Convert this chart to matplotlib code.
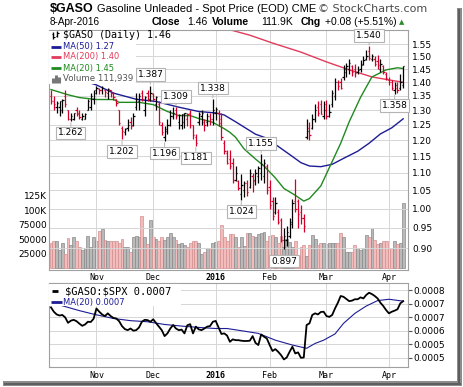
import numpy as np
import pandas as pd
import matplotlib
matplotlib.use("Agg")
import matplotlib.pyplot as plt
from matplotlib.patches import Rectangle
from matplotlib.lines import Line2D
from matplotlib.ticker import NullLocator

W, H = 464, 387

# trading days on the chart
holidays = ["2015-11-26", "2015-12-25", "2016-01-01", "2016-01-18", "2016-02-15", "2016-03-25"]
dates = pd.bdate_range("2015-10-09", "2016-04-08")
dates = dates[~dates.isin(pd.to_datetime(holidays))]

opens = [1.35, 1.33, 1.31, 1.31, 1.30, 1.35, 1.30, 1.27, 1.27, 1.30,
         1.29, 1.27, 1.27, 1.30, 1.31, 1.34, 1.37, 1.375, 1.37, 1.37,
         1.36, 1.37, 1.36, 1.34, 1.30, 1.24, 1.225, 1.24, 1.26, 1.25,
         1.31, 1.33, 1.36, 1.30, 1.36, 1.34, 1.355, 1.32, 1.32, 1.25,
         1.21, 1.235, 1.25, 1.28, 1.30, 1.26, 1.25, 1.26, 1.27, 1.29,
         1.25, 1.21, 1.26, 1.28, 1.26, 1.26, 1.28, 1.27, 1.29, 1.29,
         1.27, 1.19, 1.16, 1.14, 1.13, 1.08, 1.075, 1.04, 1.05, 1.07,
         1.06, 1.09, 1.08, 1.09, 1.10, 1.09, 1.12, 1.06, 1.02, 0.99,
         0.99, 0.97, 0.92, 0.92, 0.93, 0.96, 1.02, 1.02, 0.99, 0.975,
         1.21, 1.24, 1.24, 1.27, 1.31, 1.32, 1.28, 1.32, 1.28, 1.32,
         1.35, 1.40, 1.40, 1.42, 1.44, 1.45, 1.46, 1.45, 1.44, 1.45,
         1.47, 1.49, 1.52, 1.49, 1.49, 1.48, 1.45, 1.46, 1.43, 1.41,
         1.40, 1.37, 1.38, 1.38, 1.39]
highs = [1.37, 1.35, 1.33, 1.33, 1.34, 1.37, 1.30, 1.29, 1.29, 1.31,
         1.30, 1.29, 1.29, 1.34, 1.36, 1.37, 1.385, 1.38, 1.385, 1.375,
         1.38, 1.37, 1.365, 1.34, 1.30, 1.245, 1.24, 1.27, 1.275, 1.29,
         1.36, 1.36, 1.37, 1.35, 1.37, 1.387, 1.36, 1.35, 1.33, 1.26,
         1.245, 1.27, 1.30, 1.31, 1.309, 1.285, 1.285, 1.29, 1.29, 1.30,
         1.25, 1.22, 1.295, 1.30, 1.27, 1.29, 1.29, 1.338, 1.31, 1.30,
         1.29, 1.20, 1.17, 1.17, 1.145, 1.12, 1.08, 1.097, 1.075, 1.08,
         1.11, 1.10, 1.11, 1.12, 1.155, 1.14, 1.126, 1.08, 1.03, 1.03,
         1.00, 0.975, 0.95, 0.955, 0.975, 1.025, 1.083, 1.025, 1.01, 0.985,
         1.268, 1.26, 1.285, 1.32, 1.33, 1.337, 1.33, 1.335, 1.32, 1.372,
         1.415, 1.41, 1.415, 1.466, 1.475, 1.49, 1.466, 1.47, 1.46, 1.485,
         1.50, 1.525, 1.540, 1.51, 1.50, 1.505, 1.49, 1.466, 1.44, 1.42,
         1.41, 1.40, 1.40, 1.43, 1.46]
lows = [1.32, 1.30, 1.29, 1.28, 1.29, 1.31, 1.265, 1.262, 1.265, 1.28,
        1.27, 1.265, 1.27, 1.30, 1.30, 1.32, 1.355, 1.355, 1.355, 1.345,
        1.34, 1.345, 1.335, 1.315, 1.25, 1.202, 1.215, 1.23, 1.235, 1.245,
        1.30, 1.30, 1.33, 1.28, 1.33, 1.33, 1.33, 1.30, 1.25, 1.215,
        1.196, 1.22, 1.245, 1.27, 1.27, 1.235, 1.235, 1.24, 1.245, 1.24,
        1.205, 1.181, 1.25, 1.25, 1.23, 1.245, 1.25, 1.25, 1.265, 1.245,
        1.20, 1.155, 1.125, 1.11, 1.07, 1.075, 1.05, 1.024, 1.03, 1.035,
        1.055, 1.045, 1.065, 1.07, 1.08, 1.07, 1.04, 1.00, 0.97, 0.985,
        0.96, 0.915, 0.897, 0.905, 0.925, 0.95, 0.99, 0.95, 0.96, 0.94,
        1.203, 1.20, 1.235, 1.26, 1.28, 1.285, 1.27, 1.27, 1.275, 1.31,
        1.337, 1.37, 1.375, 1.41, 1.42, 1.43, 1.425, 1.42, 1.43, 1.44,
        1.465, 1.485, 1.485, 1.48, 1.46, 1.45, 1.44, 1.43, 1.41, 1.39,
        1.37, 1.358, 1.36, 1.37, 1.38]
closes = [1.33, 1.32, 1.325, 1.33, 1.335, 1.32, 1.27, 1.28, 1.29, 1.285,
          1.275, 1.28, 1.285, 1.33, 1.35, 1.36, 1.38, 1.37, 1.38, 1.365,
          1.375, 1.36, 1.345, 1.325, 1.255, 1.23, 1.235, 1.25, 1.245, 1.28,
          1.34, 1.35, 1.34, 1.345, 1.34, 1.36, 1.34, 1.345, 1.26, 1.225,
          1.23, 1.25, 1.28, 1.29, 1.28, 1.282, 1.285, 1.29, 1.285, 1.25,
          1.215, 1.19, 1.285, 1.29, 1.25, 1.28, 1.27, 1.30, 1.305, 1.255,
          1.21, 1.165, 1.13, 1.12, 1.08, 1.10, 1.055, 1.065, 1.07, 1.045,
          1.10, 1.075, 1.10, 1.115, 1.125, 1.13, 1.05, 1.01, 0.98, 1.015,
          0.965, 0.92, 0.93, 0.94, 0.965, 1.015, 1.00, 0.985, 0.975, 0.955,
          1.23, 1.215, 1.27, 1.30, 1.29, 1.285, 1.30, 1.28, 1.295, 1.36,
          1.40, 1.385, 1.38, 1.45, 1.46, 1.475, 1.44, 1.435, 1.445, 1.465,
          1.485, 1.50, 1.495, 1.50, 1.47, 1.465, 1.47, 1.44, 1.415, 1.40,
          1.38, 1.39, 1.37, 1.40, 1.46]
volume_k = [43, 47, 47, 32, 44, 25, 52, 40, 53, 47,
            37, 32, 34, 56, 37, 54, 46, 64, 67, 49,
            46, 47, 46, 47, 43, 50, 37, 37, 27, 54,
            56, 54, 90, 54, 42, 83, 54, 50, 47, 54,
            49, 54, 60, 54, 49, 42, 43, 40, 37, 43,
            47, 47, 44, 25, 28, 34, 34, 43, 45, 46,
            75, 54, 46, 59, 59, 54, 37, 54, 38, 60,
            60, 56, 54, 59, 61, 63, 46, 55, 57, 54,
            43, 55, 37, 50, 45, 37, 46, 20, 37, 40,
            20, 40, 58, 50, 40, 43, 43, 42, 43, 43,
            43, 43, 60, 54, 28, 28, 27, 40, 34, 32,
            34, 57, 54, 69, 49, 42, 43, 46, 47, 34,
            34, 46, 42, 43, 112]

# moving averages (bar index, value)
ma50_idx = [0, 10, 16, 22, 30, 37, 45, 52, 58, 61, 65, 72, 76, 80, 84, 88, 91, 95, 99, 103, 108, 112, 116, 120, 124]
ma50_val = [1.44, 1.41, 1.39, 1.36, 1.338, 1.33, 1.31, 1.295, 1.29, 1.283, 1.26, 1.219, 1.206, 1.18, 1.155,
            1.13, 1.12, 1.118, 1.125, 1.143, 1.165, 1.19, 1.22, 1.24, 1.27]
ma200_idx = [56, 63, 70, 78, 88, 97, 105, 113, 121, 124]
ma200_val = [1.64, 1.61, 1.587, 1.554, 1.517, 1.478, 1.447, 1.42, 1.405, 1.40]
ma20_idx = [0, 6, 10, 16, 22, 24, 31, 36, 41, 45, 49, 52, 57, 61, 63, 65, 68, 72, 75, 79, 82, 86, 89,
            91, 95, 98, 102, 105, 109, 113, 118, 122, 124]
ma20_val = [1.373, 1.354, 1.344, 1.337, 1.337, 1.327, 1.327, 1.319, 1.295, 1.281, 1.281, 1.271, 1.258,
            1.237, 1.225, 1.209, 1.172, 1.141, 1.12, 1.085, 1.055, 1.036, 1.02, 1.027, 1.062, 1.115,
            1.19, 1.26, 1.345, 1.42, 1.447, 1.455, 1.452]

# $GASO:$SPX ratio, in units of 1e-4
ratio_e4 = [7.36, 7.20, 7.10, 7.06, 7.08, 6.99, 6.79, 6.87, 6.90, 6.85,
            6.76, 6.68, 6.73, 6.83, 6.82, 6.94, 7.32, 7.20, 7.10, 7.04,
            7.14, 7.04, 6.97, 6.95, 6.85, 6.67, 6.56, 6.52, 6.58, 6.50,
            6.52, 6.62, 6.83, 6.90, 6.89, 6.83, 6.92, 6.78, 6.65, 6.52,
            6.30, 6.40, 6.58, 6.71, 6.58, 6.52, 6.54, 6.40, 6.70, 6.74,
            6.40, 6.65, 6.55, 6.52, 6.58, 6.65, 6.67, 6.83, 6.86, 6.62,
            6.38, 6.40, 6.32, 6.09, 6.18, 6.15, 6.15, 6.13, 6.12, 6.12,
            6.13, 6.30, 6.05, 5.97, 6.36, 6.28, 6.21, 5.97, 5.75, 5.82,
            5.72, 5.60, 5.44, 5.51, 5.72, 5.91, 5.66, 5.70, 5.50, 5.51,
            6.71, 6.77, 7.08, 7.14, 7.10, 7.19, 7.20, 7.04, 7.01, 7.08,
            7.32, 7.53, 7.78, 7.75, 7.67, 7.59, 7.61, 7.66, 7.66, 7.73,
            7.69, 7.82, 7.90, 7.85, 7.78, 7.69, 7.53, 7.41, 7.26, 7.14,
            7.20, 7.24, 7.29, 7.51, 7.59]
rma_idx = [0, 3, 6, 10, 15, 22, 28, 34, 40, 46, 52, 58, 62, 67, 73, 79, 85, 90, 93, 96, 100, 103, 107, 111, 115, 119, 124]
rma_val = [7.55, 7.45, 7.36, 7.24, 7.11, 6.95, 6.87, 6.83, 6.73, 6.67, 6.62, 6.58, 6.58, 6.50, 6.40, 6.15,
           5.97, 5.85, 6.03, 6.15, 6.38, 6.77, 7.14, 7.41, 7.61, 7.66, 7.59]

# labelled highs / lows
label_idx = [7, 25, 35, 40, 44, 51, 57, 67, 74, 82, 112, 121]
label_kind = ["lo", "lo", "hi", "lo", "hi", "lo", "hi", "lo", "hi", "lo", "hi", "lo"]

price_ticks = [0.90, 0.95, 1.00, 1.05, 1.10, 1.15, 1.20, 1.25, 1.30, 1.35, 1.40, 1.45, 1.50, 1.55]
vol_ticks = [25000, 50000, 75000, 100000, 125000]
vol_labels = ["25000", "50000", "75000", "100K", "125K"]
ratio_ticks = [0.0008, 0.00075, 0.0007, 0.00065, 0.0006, 0.00055]
ratio_labels = ["0.0008", "0.0007", "0.0007", "0.0006", "0.0005", "0.0005"]

n = len(closes)
x = np.arange(n)
cl = np.array(closes)
prev = np.concatenate([[opens[0]], cl[:-1]])
down = cl < prev
bar_col = np.where(down, "#d4002c", "#000000")
vol_fill = np.where(down, "#f2bcbc", "#b9b9b9")
vol_edge = np.where(down, "#d48f8f", "#8a8a8a")

month_idx = [i for i in range(1, n) if dates[i].month != dates[i - 1].month]
month_lab = [str(dates[i].year) if dates[i].month == 1 else dates[i].strftime("%b") for i in month_idx]

fig = plt.figure(figsize=(W / 100, H / 100), dpi=100)
fig.patch.set_facecolor("white")


def fx(px):
    return px / W


def fy(py):
    return 1 - py / H


xlo, xhi = -0.7, 125.7
grid_c = "#d6d6d6"
spine_c = "#a0a0a0"

ax = fig.add_axes([fx(49), fy(270), fx(359), 240 / H])
axv = ax.twinx()
ax.set_zorder(axv.get_zorder() + 1)
ax.patch.set_visible(False)

# volume
axv.bar(x, np.array(volume_k) * 1000, width=1.0, color=vol_fill, edgecolor=vol_edge, linewidth=0.5)
axv.set_ylim(-3500, 413000)
axv.yaxis.tick_left()
axv.set_yticks(vol_ticks, labels=vol_labels)
axv.tick_params(axis="y", length=0, pad=1.5, labelsize=6.5)
for s in axv.spines.values():
    s.set_visible(False)

# price bars
ax.set_yscale("log")
ax.vlines(x, lows, highs, colors=bar_col, linewidth=0.9, zorder=3)
ax.hlines(opens, x - 0.45, x, colors=bar_col, linewidth=0.9, zorder=3)
ax.hlines(closes, x, x + 0.45, colors=bar_col, linewidth=0.9, zorder=3)
ax.plot(ma50_idx, ma50_val, color="#1c1c96", linewidth=1.0, zorder=2)
ax.plot(ma200_idx, ma200_val, color="#e23a5a", linewidth=1.0, zorder=2)
ax.plot(ma20_idx, ma20_val, color="#1f8a1f", linewidth=1.0, zorder=2)

ax.set_xlim(xlo, xhi)
ax.set_ylim(0.849, 1.609)
ax.yaxis.tick_right()
ax.set_yticks(price_ticks, labels=[f"{t:.2f}" for t in price_ticks])
ax.yaxis.set_minor_locator(NullLocator())
ax.tick_params(axis="y", which="both", length=0, pad=3, labelsize=6.5)
ax.set_xticks(month_idx, labels=month_lab)
ax.tick_params(axis="x", length=0, pad=2.5, labelsize=6)
for lab in ax.get_xticklabels():
    lab.set_fontfamily("DejaVu Sans Mono")
    if lab.get_text().isdigit():
        lab.set_fontweight("bold")
ax.grid(True, color=grid_c, linewidth=0.7)
ax.set_axisbelow(True)
for s in ax.spines.values():
    s.set_color(spine_c)
    s.set_linewidth(0.8)

for i, kind in zip(label_idx, label_kind):
    val = highs[i] if kind == "hi" else lows[i]
    off = 8 if kind == "hi" else -8.5
    ax.annotate(f"{val:.3f}", xy=(i, val), xytext=(0, off), textcoords="offset points",
                ha="center", va="center", fontsize=6.5, zorder=8,
                bbox=dict(boxstyle="square,pad=0.2", fc="white", ec="#b4b4b4", lw=0.8),
                arrowprops=dict(arrowstyle="-", color="#b4b4b4", lw=0.7, shrinkA=0, shrinkB=1))

# ratio panel
ax2 = fig.add_axes([fx(49), fy(367), fx(359), 84 / H])
ax2.plot(x, np.array(ratio_e4) * 1e-4, color="black", linewidth=1.3, zorder=3)
ax2.plot(rma_idx, np.array(rma_val) * 1e-4, color="#1c1c96", linewidth=0.8, zorder=2)
ax2.set_xlim(xlo, xhi)
ax2.set_ylim(0.000516, 0.000826)
ax2.yaxis.tick_right()
ax2.set_yticks(ratio_ticks, labels=ratio_labels)
ax2.tick_params(axis="y", length=3, width=0.8, color="#555555", pad=1, labelsize=6.5)
ax2.set_xticks(month_idx, labels=month_lab)
ax2.tick_params(axis="x", length=0, pad=3, labelsize=6)
for lab in ax2.get_xticklabels():
    lab.set_fontfamily("DejaVu Sans Mono")
    if lab.get_text().isdigit():
        lab.set_fontweight("bold")
ax2.grid(True, color=grid_c, linewidth=0.7)
ax2.set_axisbelow(True)
for s in ax2.spines.values():
    s.set_color(spine_c)
    s.set_linewidth(0.8)

# legend boxes
fig.add_artist(Rectangle((fx(49.5), fy(84)), fx(87), 53.5 / H, transform=fig.transFigure,
                         fc="white", ec="none", zorder=5))
fig.add_artist(Rectangle((fx(49.5), fy(306)), fx(131), 22.5 / H, transform=fig.transFigure,
                         fc="white", ec="none", zorder=5))


def seg(x0, x1, y, color, lw=2.0):
    fig.add_artist(Line2D([fx(x0), fx(x1)], [fy(y), fy(y)], transform=fig.transFigure,
                          color=color, linewidth=lw, zorder=6, solid_capstyle="butt"))


def vseg(xp, y0, y1, color, lw=1.0):
    fig.add_artist(Line2D([fx(xp), fx(xp)], [fy(y0), fy(y1)], transform=fig.transFigure,
                          color=color, linewidth=lw, zorder=6, solid_capstyle="butt"))


def ftxt(xp, yp, s, **kw):
    kw.setdefault("va", "center")
    kw.setdefault("zorder", 7)
    fig.text(fx(xp), fy(yp), s, **kw)


# ohlc icon
vseg(53.5, 32, 38.5, "black")
seg(52, 53.5, 34, "black", 0.8)
seg(53.5, 55, 37, "black", 0.8)
vseg(57.5, 31, 37, "black")
seg(56, 57.5, 35.5, "black", 0.8)
seg(57.5, 59, 32.5, "black", 0.8)
ftxt(63, 35, "$GASO (Daily) 1.46", fontsize=7.2, family="DejaVu Sans Mono")
seg(51, 61, 46.5, "#1c1c96")
ftxt(63, 46.5, "MA(50) 1.27", fontsize=6, color="#1c1c96")
seg(51, 61, 57, "#e23a5a")
ftxt(63, 57, "MA(200) 1.40", fontsize=6, color="#e23a5a")
seg(51, 61, 68, "#1f8a1f")
ftxt(63, 68, "MA(20) 1.45", fontsize=6, color="#1f8a1f")
for bx, bh in [(53, 5), (56, 8), (59, 6)]:
    vseg(bx, 83, 83 - bh, "#777777", 2.2)
ftxt(63, 79, "Volume 111,939", fontsize=6.2, color="#555555")

seg(52, 58, 291, "black")
ftxt(65, 291, r"\$GASO:\$SPX 0.0007", fontsize=7.5, family="DejaVu Sans Mono")
seg(51, 62, 302, "#1c1c96")
ftxt(63, 302, "MA(20) 0.0007", fontsize=6, color="#1c1c96")

# header
ftxt(50, 9, "$GASO", fontsize=9, fontweight="bold", family="Liberation Sans")
ftxt(97, 9, "Gasoline Unleaded - Spot Price (EOD) CME", fontsize=8, family="Liberation Sans")
ftxt(318, 9, "\u00a9 StockCharts.com", fontsize=8, color="#4a4a4a")
ftxt(50, 22, "8-Apr-2016", fontsize=7.2, family="Liberation Sans")
ftxt(152, 22, "Close", fontsize=7.6, fontweight="bold", family="Liberation Sans")
ftxt(187, 22, "1.46", fontsize=7.5, family="Liberation Sans")
ftxt(212, 22, "Volume", fontsize=7.6, fontweight="bold", family="Liberation Sans")
ftxt(261, 22, "111.9K", fontsize=7.5, family="Liberation Sans")
ftxt(301, 22, "Chg", fontsize=7.6, fontweight="bold", family="Liberation Sans")
ftxt(325, 22, "+0.08 (+5.51%)", fontsize=7.5, family="Liberation Sans")
ftxt(399, 22.5, "\u25b2", fontsize=5, color="#2e8b2e")

# frame shadow
fig.add_artist(Rectangle((fx(457), fy(386)), fx(5), 378 / H, transform=fig.transFigure,
                         fc="#8c8c8c", ec="none", zorder=1))
fig.add_artist(Rectangle((fx(3), fy(386)), fx(459), 5 / H, transform=fig.transFigure,
                         fc="#8c8c8c", ec="none", zorder=1))
fig.add_artist(Rectangle((fx(458.5), fy(385)), fx(2), 376 / H, transform=fig.transFigure,
                         fc="#5e5e5e", ec="none", zorder=1))
fig.add_artist(Rectangle((fx(4), fy(384.5)), fx(457), 2 / H, transform=fig.transFigure,
                         fc="#5e5e5e", ec="none", zorder=1))

fig.savefig("out.png", dpi=100, facecolor="white")
